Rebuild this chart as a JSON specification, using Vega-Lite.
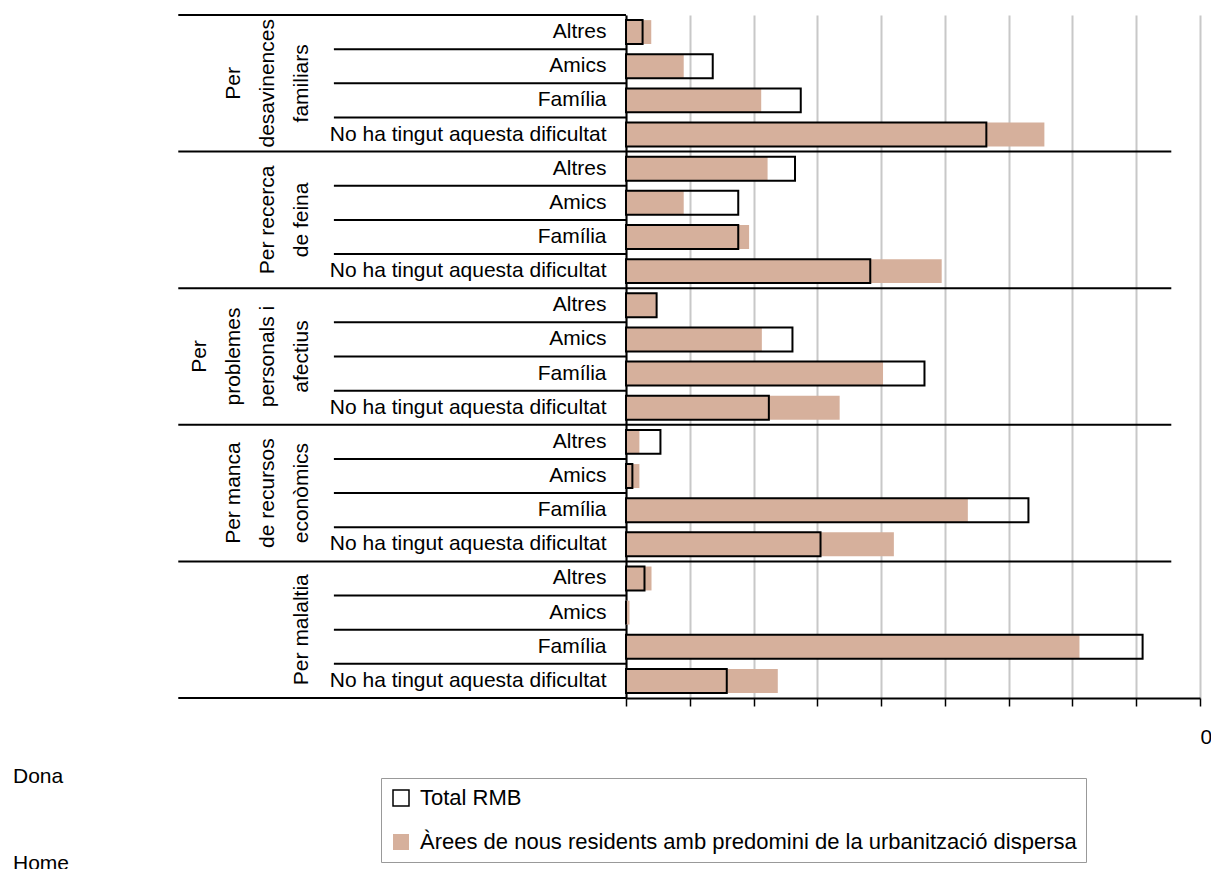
{
  "$schema": "https://vega.github.io/schema/vega-lite/v6.json",
  "autosize": {"type": "none"},
  "width": 574,
  "height": 683,
  "padding": {"left": 626, "top": 15, "right": 11, "bottom": 171},
  "background": "white",
  "config": {"view": {"stroke": null}, "font": "Liberation Sans, Arial, sans-serif"},
  "datasets": {
    "rows": [
      {"group": "Per desavinences familiars", "cat": "Altres", "key": "Per desavinences familiars|Altres", "total": 2.6, "area": 3.96},
      {"group": "Per desavinences familiars", "cat": "Amics", "key": "Per desavinences familiars|Amics", "total": 13.6, "area": 9.05},
      {"group": "Per desavinences familiars", "cat": "Família", "key": "Per desavinences familiars|Família", "total": 27.4, "area": 21.2},
      {"group": "Per desavinences familiars", "cat": "No ha tingut aquesta dificultat", "key": "Per desavinences familiars|No ha tingut aquesta dificultat", "total": 56.5, "area": 65.6},
      {"group": "Per recerca de feina", "cat": "Altres", "key": "Per recerca de feina|Altres", "total": 26.5, "area": 22.2},
      {"group": "Per recerca de feina", "cat": "Amics", "key": "Per recerca de feina|Amics", "total": 17.6, "area": 9.05},
      {"group": "Per recerca de feina", "cat": "Família", "key": "Per recerca de feina|Família", "total": 17.6, "area": 19.3},
      {"group": "Per recerca de feina", "cat": "No ha tingut aquesta dificultat", "key": "Per recerca de feina|No ha tingut aquesta dificultat", "total": 38.3, "area": 49.5},
      {"group": "Per problemes personals i afectius", "cat": "Altres", "key": "Per problemes personals i afectius|Altres", "total": 4.8, "area": 4.7},
      {"group": "Per problemes personals i afectius", "cat": "Amics", "key": "Per problemes personals i afectius|Amics", "total": 26.1, "area": 21.3},
      {"group": "Per problemes personals i afectius", "cat": "Família", "key": "Per problemes personals i afectius|Família", "total": 46.8, "area": 40.3},
      {"group": "Per problemes personals i afectius", "cat": "No ha tingut aquesta dificultat", "key": "Per problemes personals i afectius|No ha tingut aquesta dificultat", "total": 22.4, "area": 33.5},
      {"group": "Per manca de recursos econòmics", "cat": "Altres", "key": "Per manca de recursos econòmics|Altres", "total": 5.4, "area": 2.1},
      {"group": "Per manca de recursos econòmics", "cat": "Amics", "key": "Per manca de recursos econòmics|Amics", "total": 1.0, "area": 2.1},
      {"group": "Per manca de recursos econòmics", "cat": "Família", "key": "Per manca de recursos econòmics|Família", "total": 63.1, "area": 53.6},
      {"group": "Per manca de recursos econòmics", "cat": "No ha tingut aquesta dificultat", "key": "Per manca de recursos econòmics|No ha tingut aquesta dificultat", "total": 30.5, "area": 42.0},
      {"group": "Per malaltia", "cat": "Altres", "key": "Per malaltia|Altres", "total": 2.9, "area": 4.0},
      {"group": "Per malaltia", "cat": "Amics", "key": "Per malaltia|Amics", "total": 0, "area": 0.55},
      {"group": "Per malaltia", "cat": "Família", "key": "Per malaltia|Família", "total": 81.0, "area": 71.1},
      {"group": "Per malaltia", "cat": "No ha tingut aquesta dificultat", "key": "Per malaltia|No ha tingut aquesta dificultat", "total": 15.8, "area": 23.8}
    ],
    "grouplines": [
      {"key": "Per desavinences familiars|Família", "line": "Per", "fromEnd": 2},
      {"key": "Per desavinences familiars|Família", "line": "desavinences", "fromEnd": 1},
      {"key": "Per desavinences familiars|Família", "line": "familiars", "fromEnd": 0},
      {"key": "Per recerca de feina|Família", "line": "Per recerca", "fromEnd": 1},
      {"key": "Per recerca de feina|Família", "line": "de feina", "fromEnd": 0},
      {"key": "Per problemes personals i afectius|Família", "line": "Per", "fromEnd": 3},
      {"key": "Per problemes personals i afectius|Família", "line": "problemes", "fromEnd": 2},
      {"key": "Per problemes personals i afectius|Família", "line": "personals i", "fromEnd": 1},
      {"key": "Per problemes personals i afectius|Família", "line": "afectius", "fromEnd": 0},
      {"key": "Per manca de recursos econòmics|Família", "line": "Per manca", "fromEnd": 2},
      {"key": "Per manca de recursos econòmics|Família", "line": "de recursos", "fromEnd": 1},
      {"key": "Per manca de recursos econòmics|Família", "line": "econòmics", "fromEnd": 0},
      {"key": "Per malaltia|Família", "line": "Per malaltia", "fromEnd": 0}
    ]
  },
  "layer": [
    {
      "data": {"name": "rows"},
      "mark": {"type": "bar", "height": {"band": 0.7}},
      "encoding": {
        "y": {
          "field": "key", "type": "nominal", "sort": null,
          "scale": {"paddingInner": 0, "paddingOuter": 0},
          "axis": {
            "title": null, "labelExpr": "split(datum.value, '|')[1]",
            "labelFontSize": 21, "labelColor": "black", "labelPadding": 20,
            "ticks": false, "domainColor": "black", "domainWidth": 2, "labelLimit": 500
          }
        },
        "x": {
          "field": "area", "type": "quantitative",
          "scale": {"domain": [0, 90], "nice": false, "zero": true},
          "axis": {
            "title": null, "values": [0, 10, 20, 30, 40, 50, 60, 70, 80, 90],
            "grid": true, "gridColor": "#C8C8C8", "gridWidth": 2,
            "tickColor": "black", "tickWidth": 1.5, "tickSize": 8,
            "domainColor": "black", "domainWidth": 2,
            "labelExpr": "datum.value == 90 ? '0' : ''", "labelAlign": "left",
            "labelFontSize": 21, "labelColor": "black", "labelPadding": 20,
            "labelFlush": false, "labelOverlap": false, "labelBound": false
          }
        },
        "fill": {
          "datum": "Àrees de nous residents amb predomini de la urbanització dispersa",
          "type": "nominal",
          "scale": {
            "domain": ["Total RMB", "Àrees de nous residents amb predomini de la urbanització dispersa"],
            "range": ["transparent", "#D6B09C"]
          },
          "legend": {
            "orient": "none", "legendX": -245, "legendY": 763, "title": null,
            "direction": "vertical", "symbolType": "square", "symbolSize": 256,
            "labelFontSize": 22, "labelColor": "black", "labelLimit": 900, "labelOffset": 8,
            "strokeColor": "#999999", "fillColor": "white", "padding": 9, "rowPadding": 22,
            "encode": {
              "symbols": {
                "update": {
                  "stroke": [{"test": "datum.value === 'Total RMB'", "value": "black"}, {"value": "transparent"}],
                  "strokeWidth": {"value": 1.5}
                }
              }
            }
          }
        }
      }
    },
    {
      "data": {"name": "rows"},
      "mark": {"type": "bar", "height": {"band": 0.7}, "stroke": "black", "strokeWidth": 2},
      "encoding": {
        "y": {"field": "key", "type": "nominal", "sort": null},
        "x": {"field": "total", "type": "quantitative"},
        "fill": {"datum": "Total RMB", "type": "nominal"}
      }
    },
    {
      "data": {"name": "rows"},
      "transform": [{"filter": "datum.cat == 'Altres'"}],
      "mark": {"type": "rule", "color": "black", "strokeWidth": 2},
      "encoding": {
        "y": {"field": "key", "type": "nominal", "sort": null, "bandPosition": 0},
        "x": {"datum": -70.2, "type": "quantitative"},
        "x2": {"datum": 0},
        "strokeDash": {
          "datum": "Dona", "type": "nominal",
          "scale": {"domain": ["Dona", "Home"], "range": [[1, 0], [1, 0]]},
          "legend": {
            "orient": "none", "legendX": -634, "legendY": 751, "title": null,
            "symbolOpacity": 0, "symbolSize": 1, "symbolStrokeWidth": 0,
            "labelFontSize": 21, "labelColor": "black", "labelOffset": 0,
            "padding": 0, "rowPadding": 65
          }
        }
      }
    },
    {
      "data": {"name": "rows"},
      "transform": [{"filter": "datum.cat == 'Altres' && datum.group != 'Per desavinences familiars'"}],
      "mark": {"type": "rule", "color": "black", "strokeWidth": 2},
      "encoding": {
        "y": {"field": "key", "type": "nominal", "sort": null, "bandPosition": 0},
        "x": {"datum": 0, "type": "quantitative"},
        "x2": {"datum": 85.5}
      }
    },
    {
      "data": {"name": "rows"},
      "transform": [{"filter": "datum.cat != 'Altres'"}],
      "mark": {"type": "rule", "color": "black", "strokeWidth": 2},
      "encoding": {
        "y": {"field": "key", "type": "nominal", "sort": null, "bandPosition": 0},
        "x": {"datum": -45.8, "type": "quantitative"},
        "x2": {"datum": 0}
      }
    },
    {
      "data": {"name": "rows"},
      "transform": [{"filter": "datum.key == 'Per malaltia|No ha tingut aquesta dificultat'"}],
      "mark": {"type": "rule", "color": "black", "strokeWidth": 2},
      "encoding": {
        "y": {"field": "key", "type": "nominal", "sort": null, "bandPosition": 1},
        "x": {"datum": -70.2, "type": "quantitative"},
        "x2": {"datum": 0}
      }
    },
    {
      "data": {"name": "grouplines"},
      "mark": {"type": "text", "angle": 270, "align": "center", "baseline": "middle", "fontSize": 21, "color": "black"},
      "encoding": {
        "y": {"field": "key", "type": "nominal", "sort": null, "bandPosition": 0},
        "x": {"datum": -50.8, "type": "quantitative"},
        "xOffset": {"field": "fromEnd", "type": "quantitative", "scale": {"domain": [0, 3], "range": [0, -102]}},
        "text": {"field": "line"}
      }
    }
  ]
}
